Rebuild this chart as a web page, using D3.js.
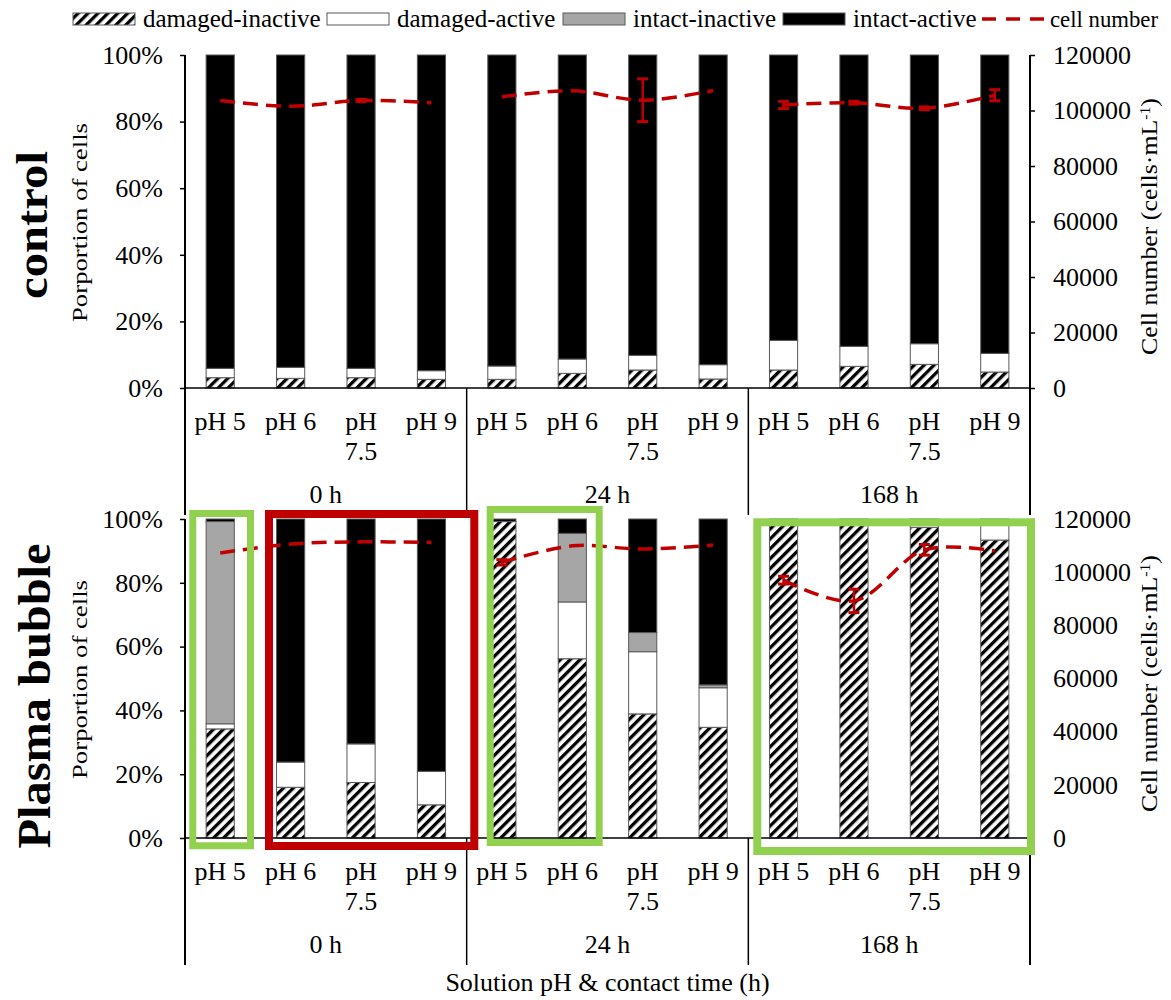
<!DOCTYPE html>
<html><head><meta charset="utf-8">
<script src="https://cdn.jsdelivr.net/npm/d3@7"></script>
<style>
body{margin:0;background:#fff}
svg text{font-family:"Liberation Serif","Times New Roman",serif;fill:#000}
</style>
</head><body>
<svg id="c" width="1171" height="1000"></svg>
<script>
// ---------- data ----------
const phLabels = ["pH 5", "pH 6", "pH 7.5", "pH 9"];
const timeGroups = ["0 h", "24 h", "168 h"];
const seriesNames = ["damaged-inactive", "damaged-active", "intact-inactive", "intact-active"];
const percentTicks = [0, 0.2, 0.4, 0.6, 0.8, 1];
const cellTicks = [0, 20000, 40000, 60000, 80000, 100000, 120000];

// control (%)
const controlDamagedInactive = [3.1, 2.9, 3.1, 2.6, 2.6, 4.4, 5.4, 2.7, 5.4, 6.5, 7.1, 4.8];
const controlDamagedActive   = [2.8, 3.3, 2.8, 2.6, 4.0, 4.3, 4.4, 4.3, 8.9, 6.0, 6.2, 5.6];
const controlIntactInactive  = [0, 0, 0, 0, 0, 0, 0, 0, 0, 0, 0, 0];
const controlIntactActive    = [94.1, 93.8, 94.1, 94.8, 93.4, 91.3, 90.2, 93.0, 85.7, 87.5, 86.7, 89.6];
const controlCellNumber = [103600, 101500, 103600, 102800, 104900, 107100, 103700, 107200, 102000, 102800, 100800, 105500];
const controlCellError  = [0, 0, 400, 0, 0, 0, 7700, 0, 1300, 500, 500, 2000];

// plasma bubble (%)
const plasmaDamagedInactive = [34.2, 15.9, 17.4, 10.4, 99.2, 56.2, 38.9, 34.7, 99.0, 99.0, 97.4, 93.4];
const plasmaDamagedActive   = [1.6, 7.9, 12.1, 10.5, 0, 17.8, 19.5, 12.4, 1.0, 1.0, 2.6, 6.6];
const plasmaIntactInactive  = [63.4, 0, 0, 0, 0, 21.5, 6.0, 0.9, 0, 0, 0, 0];
const plasmaIntactActive    = [0.8, 76.2, 70.5, 79.1, 0.8, 4.5, 35.6, 52.0, 0, 0, 0, 0];
const plasmaCellNumber = [107200, 110600, 111400, 111200, 103700, 109900, 108700, 110200, 97000, 89200, 108400, 108000];
const plasmaCellError  = [0, 0, 0, 0, 1000, 0, 0, 0, 1450, 4400, 2000, 0];

// ---------- setup ----------
const svg = d3.select("#c");
const RED = "#c00000", GREEN = "#92d050";
const defs = svg.append("defs");
const pat = defs.append("pattern").attr("id", "hatch").attr("patternUnits", "userSpaceOnUse")
  .attr("width", 7).attr("height", 7).attr("patternTransform", "rotate(45)");
pat.append("rect").attr("width", 7).attr("height", 7).attr("fill", "#fff");
pat.append("rect").attr("width", 3.3).attr("height", 7).attr("fill", "#000");
const fills = ["url(#hatch)", "#ffffff", "#a6a6a6", "#000000"];

const categories = timeGroups.flatMap(t => phLabels.map(p => ({group: t, ph: p, key: t + "|" + p})));
const left = 185, right = 1030;
const x = d3.scaleBand().domain(categories.map(c => c.key)).range([left, right])
  .paddingInner(0.6).paddingOuter(0.3);
const step = x.step();
const cx = k => x(k) + x.bandwidth() / 2;

const panels = [
  {label: "control", top: 55, bottom: 388, labelSize: 44, labelLen: 148, labelX: 47, labelY: 225,
   series: [controlDamagedInactive, controlDamagedActive, controlIntactInactive, controlIntactActive],
   cells: controlCellNumber, err: controlCellError},
  {label: "Plasma bubble", top: 519, bottom: 838, labelSize: 47, labelLen: 305, labelX: 50, labelY: 696,
   series: [plasmaDamagedInactive, plasmaDamagedActive, plasmaIntactInactive, plasmaIntactActive],
   cells: plasmaCellNumber, err: plasmaCellError}
];

panels.forEach(p => {
  const y = d3.scaleLinear().domain([0, 100]).range([p.bottom, p.top]);
  const yPct = d3.scaleLinear().domain([0, 1]).range([p.bottom, p.top]);
  const yR = d3.scaleLinear().domain([0, 120000]).range([p.bottom, p.top]);
  const g = svg.append("g");

  const rows = categories.map((c, i) => {
    const r = {key: c.key};
    seriesNames.forEach((s, j) => r[s] = p.series[j][i]);
    return r;
  });
  const stacked = d3.stack().keys(seriesNames)(rows);
  stacked.forEach((layer, j) => {
    g.append("g").selectAll("rect").data(layer.filter(d => d[1] - d[0] > 0)).join("rect")
      .attr("x", d => x(d.data.key)).attr("width", x.bandwidth())
      .attr("y", d => y(d[1])).attr("height", d => y(d[0]) - y(d[1]))
      .attr("fill", fills[j]).attr("stroke", "#595959").attr("stroke-width", 1);
  });

  // left axis
  const axL = g.append("g").attr("transform", `translate(${left},0)`)
    .call(d3.axisLeft(yPct).tickValues(percentTicks).tickFormat(d3.format(".0%"))
      .tickSize(5).tickSizeOuter(0).tickPadding(17));
  // right axis
  const axR = g.append("g").attr("transform", `translate(${right},0)`)
    .call(d3.axisRight(yR).tickValues(cellTicks).tickFormat(d3.format("d"))
      .tickSize(5).tickSizeOuter(0).tickPadding(18));
  [axL, axR].forEach(a => {
    a.select(".domain").remove();
    a.selectAll(".tick line").attr("stroke", "#000").attr("stroke-width", 1.5);
    a.selectAll(".tick text").attr("font-size", 26).attr("font-family", "'Liberation Serif','Times New Roman',serif");
  });
  // vertical axis lines (extend into category axis)
  const extBottom = p.bottom + 127;
  [left, right].forEach(xx => g.append("line").attr("x1", xx).attr("x2", xx)
    .attr("y1", p.top).attr("y2", extBottom).attr("stroke", "#000").attr("stroke-width", 2));
  // x axis baseline
  g.append("line").attr("x1", left).attr("x2", right).attr("y1", p.bottom).attr("y2", p.bottom)
    .attr("stroke", "#000").attr("stroke-width", 1.5);
  // group separators
  timeGroups.forEach((t, gi) => {
    if (gi === 0) return;
    const sx = x(categories[gi * 4].key) - step * 0.3;
    g.append("line").attr("x1", sx).attr("x2", sx).attr("y1", p.bottom).attr("y2", extBottom)
      .attr("stroke", "#000").attr("stroke-width", 1.5);
  });
  // category labels (wrap if wider than band)
  categories.forEach(c => {
    const t = g.append("text").attr("x", cx(c.key)).attr("y", p.bottom + 42)
      .attr("text-anchor", "middle").attr("font-size", 26).text(c.ph);
    if (t.node().getComputedTextLength() > step - 2) {
      const words = c.ph.split(" ");
      t.text(null);
      words.forEach((w, k) => t.append("tspan").attr("x", cx(c.key)).attr("y", p.bottom + 42 + k * 30).text(w));
    }
  });
  // group labels
  timeGroups.forEach((t, gi) => {
    const gx = left + step * (gi * 4 + 2);
    g.append("text").attr("x", gx).attr("y", p.bottom + 115).attr("text-anchor", "middle")
      .attr("font-size", 26).text(t);
  });

  // cell number line per group
  const line = d3.line().x(d => cx(d.key)).y(d => yR(d.v)).curve(d3.curveCatmullRom.alpha(0.5));
  timeGroups.forEach((t, gi) => {
    const pts = categories.map((c, i) => ({key: c.key, v: p.cells[i], e: p.err[i]}))
      .slice(gi * 4, gi * 4 + 4);
    g.append("path").attr("d", line(pts)).attr("fill", "none").attr("stroke", RED)
      .attr("stroke-width", 3.5).attr("stroke-dasharray", "15,8");
    pts.filter(d => d.e > 0).forEach(d => {
      const xx = cx(d.key);
      g.append("line").attr("x1", xx).attr("x2", xx).attr("y1", yR(d.v - d.e)).attr("y2", yR(d.v + d.e))
        .attr("stroke", RED).attr("stroke-width", 2.5);
      [d.v - d.e, d.v + d.e].forEach(v => g.append("line").attr("x1", xx - 5.5).attr("x2", xx + 5.5)
        .attr("y1", yR(v)).attr("y2", yR(v)).attr("stroke", RED).attr("stroke-width", 3));
    });
  });

  // axis titles
  const mid = (p.top + p.bottom) / 2;
  g.append("text").attr("transform", `translate(87,${mid + 1}) rotate(-90)`).attr("text-anchor", "middle")
    .attr("font-size", 21).attr("textLength", 199).attr("lengthAdjust", "spacingAndGlyphs")
    .text("Porportion of cells");
  const rt = g.append("text").attr("transform", `translate(1157,${mid + 5}) rotate(-90)`)
    .attr("text-anchor", "middle").attr("font-size", 23).attr("textLength", 257)
    .attr("lengthAdjust", "spacingAndGlyphs");
  rt.append("tspan").text("Cell number (cells·mL");
  rt.append("tspan").attr("baseline-shift", "super").attr("font-size", 14).text("-1");
  rt.append("tspan").text(")");
  // panel label
  g.append("text").attr("transform", `translate(${p.labelX},${p.labelY}) rotate(-90)`)
    .attr("text-anchor", "middle").attr("font-size", p.labelSize).attr("font-weight", "bold")
    .attr("textLength", p.labelLen).attr("lengthAdjust", "spacingAndGlyphs").text(p.label);
});

// x axis title
svg.append("text").attr("x", (left + right) / 2).attr("y", 991).attr("text-anchor", "middle")
  .attr("font-size", 26).text("Solution pH & contact time (h)");

// legend
const legendX = [73, 327, 563, 783, 982];
const lg = svg.append("g");
seriesNames.forEach((s, j) => {
  lg.append("rect").attr("x", legendX[j]).attr("y", 13).attr("width", 62).attr("height", 12)
    .attr("fill", fills[j]).attr("stroke", "#595959").attr("stroke-width", 1);
  lg.append("text").attr("x", legendX[j] + 70).attr("y", 27).attr("font-size", 25).text(s);
});
lg.append("line").attr("x1", legendX[4]).attr("x2", legendX[4] + 62).attr("y1", 19).attr("y2", 19)
  .attr("stroke", RED).attr("stroke-width", 3.5).attr("stroke-dasharray", "14,10");
lg.append("text").attr("x", legendX[4] + 68).attr("y", 27).attr("font-size", 24)
  .attr("textLength", 108).attr("lengthAdjust", "spacingAndGlyphs").text("cell number");

// annotation boxes (bottom panel highlights)
const boxes = [
  {c: GREEN, x0: 189.3, x1: 254, y0: 510, y1: 849.3, w: 7},
  {c: RED,   x0: 265,   x1: 478.3, y0: 510, y1: 850, w: 8},
  {c: GREEN, x0: 486.7, x1: 602.7, y0: 506, y1: 846, w: 7},
  {c: GREEN, x0: 753.3, x1: 1035, y0: 518.3, y1: 855, w: 8}
];
boxes.forEach(b => svg.append("rect").attr("x", b.x0 + b.w / 2).attr("y", b.y0 + b.w / 2)
  .attr("width", b.x1 - b.x0 - b.w).attr("height", b.y1 - b.y0 - b.w)
  .attr("fill", "none").attr("stroke", b.c).attr("stroke-width", b.w));
</script>
</body></html>
